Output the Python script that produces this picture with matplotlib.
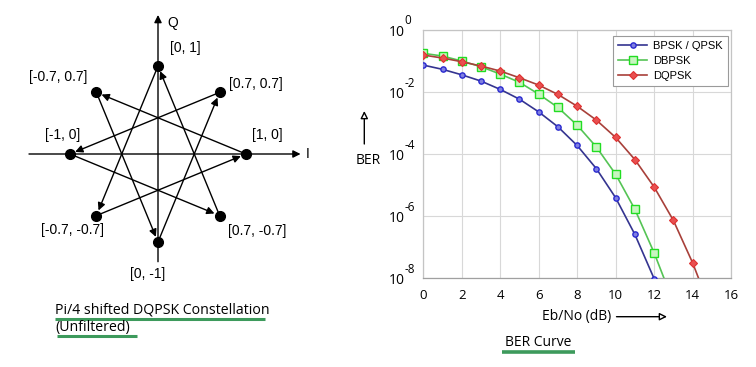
import matplotlib
matplotlib.use("Agg")
import matplotlib.pyplot as plt
from matplotlib.transforms import blended_transform_factory, offset_copy

plt.rcParams['font.family'] = ['Liberation Sans', 'DejaVu Sans']

# ---------------- data ----------------
# constellation points (I, Q) and labels, ordered by phase angle
points_i = [1.0, 0.7, 0.0, -0.7, -1.0, -0.7, 0.0, 0.7]
points_q = [0.0, 0.7, 1.0, 0.7, 0.0, -0.7, -1.0, -0.7]
point_labels = ["[1, 0]", "[0.7, 0.7]", "[0, 1]", "[-0.7, 0.7]",
                "[-1, 0]", "[-0.7, -0.7]", "[0, -1]", "[0.7, -0.7]"]
# transitions (from index, to index)
transitions = [(0, 3), (1, 4), (2, 5), (3, 6), (4, 7), (5, 0), (6, 1), (7, 2)]

# BER curves
ebno_bpsk = [0, 1, 2, 3, 4, 5, 6, 7, 8, 9, 10, 11, 12]
ber_bpsk = [7.4e-2, 5.4e-2, 3.6e-2, 2.26e-2, 1.22e-2, 5.9e-3, 2.3e-3,
            7.6e-4, 1.9e-4, 3.4e-5, 3.95e-6, 2.6e-7, 9.8e-9]
ebno_dbpsk = [0, 1, 2, 3, 4, 5, 6, 7, 8, 9, 10, 11, 12, 13]
ber_dbpsk = [0.177, 0.145, 0.100, 0.0655, 0.038, 0.0206, 8.6e-3, 3.2e-3,
             8.6e-4, 1.7e-4, 2.26e-5, 1.68e-6, 6.7e-8, 1.7e-9]
ebno_dqpsk = [0, 1, 2, 3, 4, 5, 6, 7, 8, 9, 10, 11, 12, 13, 14, 15]
ber_dqpsk = [0.156, 0.125, 0.095, 0.069, 0.0476, 0.0289, 0.0168, 8.4e-3,
             3.5e-3, 1.25e-3, 3.46e-4, 6.7e-5, 8.8e-6, 7.4e-7, 3.2e-8, 8e-10]
x_ticks = [0, 2, 4, 6, 8, 10, 12, 14, 16]
y_exponents = [0, -2, -4, -6, -8]

# ---------------- figure ----------------
W, H = 756, 367
fig = plt.figure(figsize=(W / 100, H / 100), dpi=100)
fig.patch.set_facecolor('white')

# overlay in pixel coordinates for captions/annotations
ov = fig.add_axes([0, 0, 1, 1])
ov.set_xlim(0, W)
ov.set_ylim(H, 0)
ov.axis('off')
ov.patch.set_alpha(0)

cap_font = ['Open Sans', 'DejaVu Sans']

# ---------------- constellation ----------------
cx, cy, r = 158.0, 154.0, 88.0
axw = 350.0
ax1 = fig.add_axes([0, 0, axw / W, 1])
ax1.set_xlim((0 - cx) / r, (axw - cx) / r)
ax1.set_ylim(-(H - cy) / r, cy / r)
ax1.axis('off')

# axes arrows
ax1.annotate("", xy=(1.62, 0), xytext=(-1.466, 0),
             arrowprops=dict(arrowstyle='-|>', color='black', lw=1.0,
                             mutation_scale=11, shrinkA=0, shrinkB=0))
ax1.annotate("", xy=(0, 1.58), xytext=(0, -1.224),
             arrowprops=dict(arrowstyle='-|>', color='black', lw=1.0,
                             mutation_scale=11, shrinkA=0, shrinkB=0))
ax1.text(0.17, 1.49, "Q", fontsize=10, ha='center', va='center')
ax1.text(1.70, 0.0, "I", fontsize=10, ha='center', va='center')

for a, b in transitions:
    ax1.annotate("", xy=(points_i[b], points_q[b]),
                 xytext=(points_i[a], points_q[a]),
                 arrowprops=dict(arrowstyle='-|>', color='black', lw=1.0,
                                 mutation_scale=11, shrinkA=0, shrinkB=4))
ax1.plot(points_i, points_q, 'o', color='black', markersize=7, zorder=5)

label_pos = [(1.244, 0.216), (1.11, 0.80), (0.316, 1.20), (-1.136, 0.87),
             (-1.08, 0.216), (-0.966, -0.864), (-0.114, -1.364), (1.125, -0.872)]
for (lx, ly), txt in zip(label_pos, point_labels):
    ax1.text(lx, ly, txt, fontsize=10, ha='center', va='center')

# captions
ov.text(55, 310, "Pi/4 shifted DQPSK Constellation", fontsize=10.2,
        family=cap_font, ha='left', va='center')
ov.text(55, 328, "(Unfiltered)", fontsize=10.2, family=cap_font,
        ha='left', va='center')
ugreen = '#3d9a5c'
ov.plot([55, 265], [318.5, 318.5], color=ugreen, lw=2.2, solid_capstyle='butt')
ov.plot([57, 137], [336, 336], color=ugreen, lw=2.2, solid_capstyle='butt')
ov.text(505, 342, "BER Curve", fontsize=10, family=cap_font,
        ha='left', va='center')
ov.plot([502, 575], [352.3, 352.3], color=ugreen, lw=2.6, solid_capstyle='butt')

# ---------------- BER curve ----------------
left, right, top, bottom = 423.3, 731.0, 30.0, 278.3
ax2 = fig.add_axes([left / W, (H - bottom) / H, (right - left) / W, (bottom - top) / H])
ax2.set_yscale('log')
ax2.set_xlim(0, 16)
ax2.set_ylim(1e-8, 1e0)

ax2.plot(ebno_bpsk, ber_bpsk, '-', color='#343490', lw=1.2, marker='o',
         markersize=3.8, markerfacecolor='#8080e0', markeredgecolor='#2a2ad0',
         markeredgewidth=1.0, label='BPSK / QPSK', zorder=3)
ax2.plot(ebno_dbpsk, ber_dbpsk, '-', color='#55c455', lw=1.2, marker='s',
         markersize=5.2, markerfacecolor='#c8f5c0', markeredgecolor='#22dd22',
         markeredgewidth=1.0, label='DBPSK', zorder=3)
ax2.plot(ebno_dqpsk, ber_dqpsk, '-', color='#a8403a', lw=1.2, marker='D',
         markersize=3.6, markerfacecolor='#e85050', markeredgecolor='#e03030',
         markeredgewidth=0.8, label='DQPSK', zorder=4)

ax2.set_xticks(x_ticks)
ax2.set_xticklabels([str(t) for t in x_ticks], fontsize=9.5, family=cap_font)
ax2.set_yticks([10.0 ** e for e in y_exponents])
ax2.set_yticklabels([])
ax2.minorticks_off()
ax2.tick_params(axis='x', length=0, pad=7.5)
ax2.tick_params(axis='y', length=0)
ax2.grid(True, color='#d8d8d8', lw=0.8)
for s in ax2.spines.values():
    s.set_color('#c4c4c4')
    s.set_linewidth(0.9)
ax2.spines['bottom'].set_color('#a0a0a0')

trans = blended_transform_factory(ax2.transAxes, ax2.transData)
t_base = offset_copy(trans, fig=fig, x=-19.0, y=-2.5, units='dots')
t_exp = offset_copy(trans, fig=fig, x=-18.5, y=9, units='dots')
for e in y_exponents:
    ax2.text(0, 10.0 ** e, "10", fontsize=10, family=cap_font, ha='right',
             va='center', transform=t_base, clip_on=False)
    ax2.text(0, 10.0 ** e, str(e), fontsize=8.5, family=cap_font, ha='left',
             va='center', transform=t_exp, clip_on=False)

leg = ax2.legend(loc='upper right', bbox_to_anchor=(0.99, 0.977), fontsize=8,
                 fancybox=False, edgecolor='#9a9a9a', framealpha=1,
                 handlelength=2.6, borderpad=0.5, labelspacing=0.42,
                 handletextpad=0.5, borderaxespad=0)
leg.get_frame().set_linewidth(0.8)

# axis captions with hollow arrows
ov.text(368, 160, "BER", fontsize=10, family=cap_font, ha='center', va='center')
ov.annotate("", xy=(364.3, 111), xytext=(364.3, 144),
            arrowprops=dict(arrowstyle='-|>', fc='white', ec='black', lw=1.0,
                            mutation_scale=11, shrinkA=0, shrinkB=0))
ov.text(576.5, 316.5, "Eb/No (dB)", fontsize=10, family=cap_font,
        ha='center', va='center')
ov.annotate("", xy=(667, 316.7), xytext=(616.5, 316.7),
            arrowprops=dict(arrowstyle='-|>', fc='white', ec='black', lw=1.0,
                            mutation_scale=11, shrinkA=0, shrinkB=0))

fig.savefig("out.png", dpi=100, facecolor='white')
